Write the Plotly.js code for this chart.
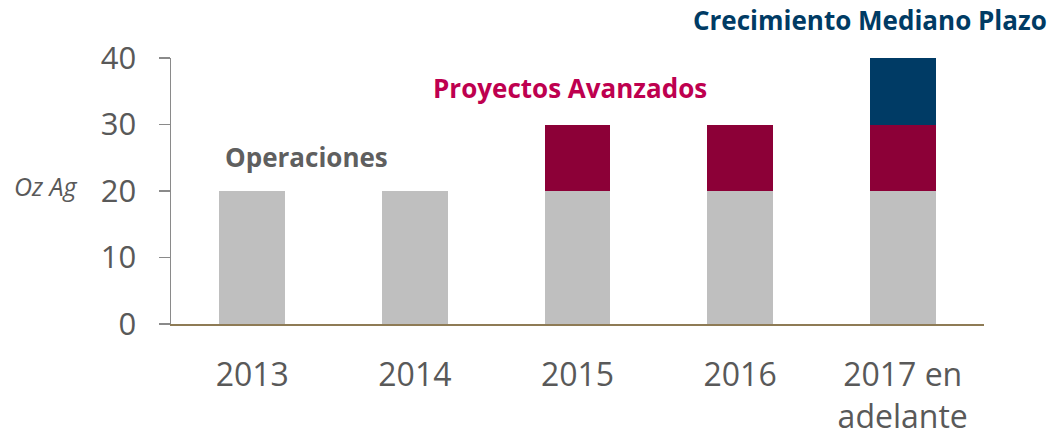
<!DOCTYPE html>
<html>
<head>
<meta charset="utf-8">
<script src="https://cdn.plot.ly/plotly-3.0.1.min.js"></script>
<style>
html,body{margin:0;padding:0;background:#fff;}
#chart{width:1055px;height:436px;}
</style>
</head>
<body>
<div id="chart"></div>
<script>
const categories = ["2013", "2014", "2015", "2016", "2017 en<br>adelante"];
const operaciones = [20, 20, 20, 20, 20];
const proyectosAvanzados = [0, 0, 10, 10, 10];
const crecimientoMedianoPlazo = [0, 0, 0, 0, 10];
const yTicks = [0, 10, 20, 30, 40];

const FONT = "'Open Sans', 'Liberation Sans', sans-serif";

const traces = [
  {type: "bar", name: "Operaciones", x: categories, y: operaciones,
   marker: {color: "#BFBFBF"}, hoverinfo: "none"},
  {type: "bar", name: "Proyectos Avanzados", x: categories, y: proyectosAvanzados,
   marker: {color: "#8C0037"}, hoverinfo: "none"},
  {type: "bar", name: "Crecimiento Mediano Plazo", x: categories, y: crecimientoMedianoPlazo,
   marker: {color: "#003B65"}, hoverinfo: "none"}
];

const layout = {
  width: 1055, height: 436,
  margin: {l: 171, r: 71, t: 58, b: 112},
  paper_bgcolor: "#ffffff", plot_bgcolor: "rgba(0,0,0,0)",
  barmode: "stack", bargap: 0.595, showlegend: false,
  font: {family: FONT, color: "#595959"},
  xaxis: {
    type: "category", showgrid: false, zeroline: false,
    showline: true, linecolor: "#8E7B55", linewidth: 2,
    ticks: "", ticklabelstandoff: 22,
    tickfont: {size: 32, color: "#595959", family: FONT}
  },
  yaxis: {
    range: [0, 40], tickvals: yTicks, showgrid: false, zeroline: false,
    showline: true, linecolor: "#8A8A8A", linewidth: 1.5,
    ticks: "outside", ticklen: 11, tickwidth: 1.5, tickcolor: "#8A8A8A",
    ticklabelstandoff: 16,
    tickfont: {size: 31, color: "#595959", family: FONT}
  },
  annotations: [
    {text: "<b>Operaciones</b>", xref: "paper", yref: "paper", x: 0.167, y: 0.628,
     xanchor: "center", yanchor: "middle", showarrow: false,
     font: {size: 26, color: "#5F5F5F", family: FONT}},
    {text: "<b>Proyectos Avanzados</b>", xref: "paper", yref: "paper", x: 0.491, y: 0.887,
     xanchor: "center", yanchor: "middle", showarrow: false,
     font: {size: 26, color: "#BE004F", family: FONT}},
    {text: "<b>Crecimiento Mediano Plazo</b>", xref: "paper", yref: "paper", x: 0.860, y: 1.143,
     xanchor: "center", yanchor: "middle", showarrow: false,
     font: {size: 26, color: "#003B64", family: FONT}},
    {text: "<i>Oz Ag</i>", xref: "paper", yref: "paper", x: -0.154, y: 0.519,
     xanchor: "center", yanchor: "middle", showarrow: false,
     font: {size: 25, color: "#595959", family: FONT}}
  ]
};

Plotly.newPlot("chart", traces, layout, {displayModeBar: false, staticPlot: true});
</script>
</body>
</html>
